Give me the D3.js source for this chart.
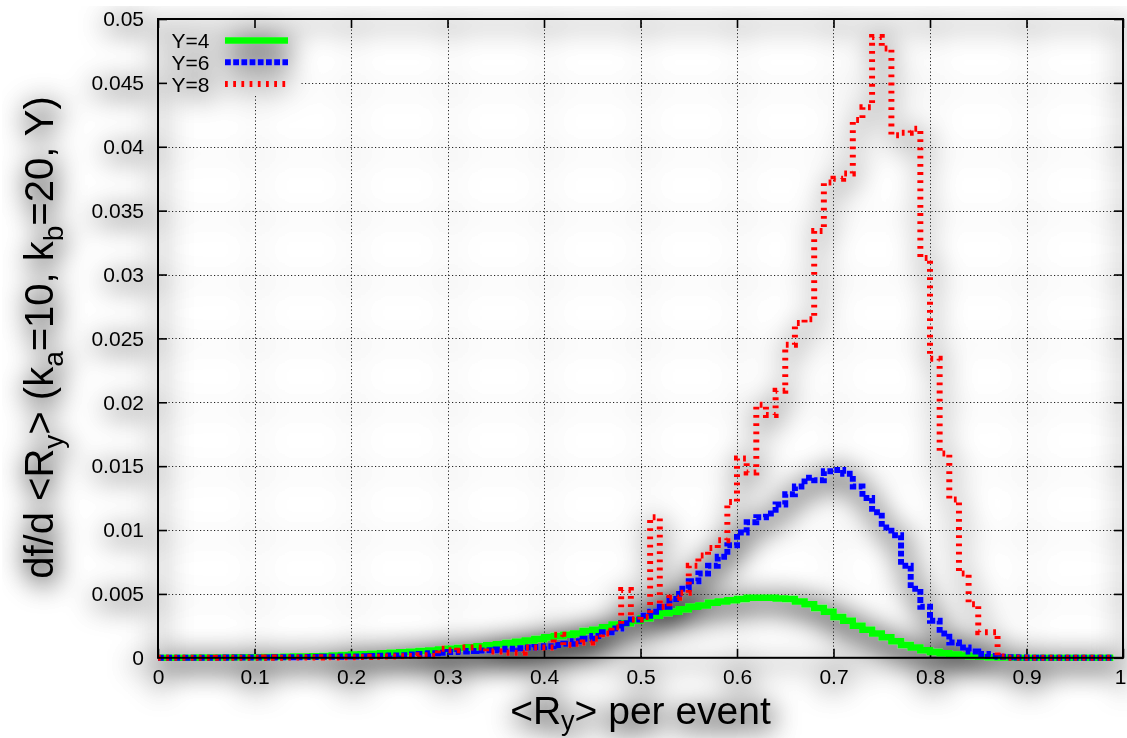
<!DOCTYPE html>
<html>
<head>
<meta charset="utf-8">
<script src="https://cdn.jsdelivr.net/npm/d3@7"></script>
<style>
  html, body { margin: 0; padding: 0; background: #fff; }
  svg { display: block; }
  text { font-family: "Liberation Sans", Arial, Helvetica, sans-serif; fill: #000; }
</style>
</head>
<body>
<svg id="chart" width="1127" height="738"></svg>
<script>
// ---------------- data ----------------
const binWidth = 0.01;          // histogram bin width, bins start at 0
const seriesNames = ["Y=4", "Y=6", "Y=8"];
const seriesColors = ["#00ff00", "#0000ff", "#ff0000"];

const valuesY4 = [
  0,0,0.00001,0.00001,0.00002,0.00002,0.00003,0.00003,0.00004,0.00005,
  0.00005,0.00006,0.00007,0.00008,0.0001,0.00011,0.00013,0.00015,0.00018,0.00021,
  0.00025,0.00028,0.00031,0.00035,0.00039,0.00043,0.00048,0.00053,0.00058,0.00064,
  0.0007,0.00076,0.00082,0.0009,0.00098,0.00106,0.00115,0.00125,0.00135,0.00147,
  0.0016,0.0017,0.0018,0.0019,0.0021,0.0022,0.0024,0.0026,0.0027,0.0029,
  0.0031,0.0033,0.0035,0.0036,0.0038,0.0040,0.0041,0.0043,0.0044,0.0045,
  0.0046,0.0047,0.0047,0.0047,0.00465,0.0046,0.0044,0.0042,0.0039,0.0036,
  0.0032,0.0029,0.0025,0.0022,0.0019,0.0016,0.0013,0.0010,0.0008,0.0006,
  0.00045,0.00035,0.00025,0.00018,0.00012,0.00008,0.00005,0.00003,0.00002,0.00001,
  0.00001,0,0,0,0,0,0,0,0
];
const valuesY6 = [
  0,0,0,0.00001,0.00001,0.00001,0.00001,0.00002,0.00002,0.00002,
  0.00003,0.00003,0.00004,0.00004,0.00005,0.00006,0.00007,0.00008,0.00009,0.0001,
  0.00011,0.00012,0.00014,0.00016,0.00018,0.0002,0.00025,0.0003,0.00035,0.0004,
  0.00045,0.0005,0.00053,0.00057,0.0006,0.00065,0.0007,0.00075,0.0008,0.00085,
  0.0009,0.001,0.0011,0.0013,0.0015,0.0017,0.0020,0.0023,0.0027,0.0030,
  0.0033,0.0036,0.0040,0.0046,0.0054,0.0060,0.0066,0.0072,0.0079,0.0088,
  0.0098,0.0106,0.0110,0.0113,0.0120,0.0128,0.0134,0.0141,0.0139,0.0146,
  0.0147,0.0144,0.0134,0.0125,0.0114,0.0102,0.0096,0.0072,0.0054,0.0040,
  0.0029,0.0019,0.0012,0.0008,0.0005,0.0003,0.00015,0.00008,0.00004,0.00002,
  0.00001,0,0,0,0,0,0,0,0
];
const valuesY8 = [
  0,0,0,0,0.00001,0,0.00001,0.00001,0,0.00001,
  0.00001,0.00002,0.00001,0.00002,0.00002,0.00003,0.00002,0.00004,0.00003,0.00005,
  0.00005,0.00006,0.00008,0.0001,0.0001,0.00012,0.00015,0.0002,0.00015,0.0007,
  0.0006,0.0008,0.0008,0.0008,0.0005,0.0005,0.0004,0.0004,0.0008,0.0008,
  0.0008,0.0018,0.0010,0.0011,0.0012,0.0015,0.0019,0.0024,0.0053,0.0030,
  0.0032,0.0110,0.0040,0.0047,0.0051,0.0072,0.0080,0.0086,0.0092,0.0122,
  0.0156,0.0145,0.0198,0.0190,0.0209,0.0245,0.0262,0.0265,0.0334,0.0372,
  0.0375,0.0379,0.0421,0.0431,0.0486,0.0477,0.0409,0.0411,0.0414,0.0313,
  0.0234,0.0160,0.0124,0.0066,0.0042,0.0020,0.0020,0.0001,0,0,
  0,0,0,0,0,0,0,0,0
];
const xTickValues = [0,0.1,0.2,0.3,0.4,0.5,0.6,0.7,0.8,0.9,1];
const xTickLabels = ["0","0.1","0.2","0.3","0.4","0.5","0.6","0.7","0.8","0.9","1"];
const yTickValues = [0,0.005,0.01,0.015,0.02,0.025,0.03,0.035,0.04,0.045,0.05];
const yTickLabels = ["0","0.005","0.01","0.015","0.02","0.025","0.03","0.035","0.04","0.045","0.05"];

// ---------------- layout ----------------
const L = 158, R = 1123, T = 19, B = 657.8;
const svg = d3.select("#chart");
const x = d3.scaleLinear().domain([0, 1]).range([L, R]);
const y = d3.scaleLinear().domain([0, 0.05]).range([B, T]);

const defs = svg.append("defs");
const f = defs.append("filter").attr("id", "shadow")
  .attr("filterUnits", "userSpaceOnUse")
  .attr("x", 0).attr("y", 0).attr("width", 1127).attr("height", 738);
f.append("feGaussianBlur").attr("in", "SourceAlpha").attr("stdDeviation", 14).attr("result", "b");
f.append("feOffset").attr("in", "b").attr("dx", 2).attr("dy", 6).attr("result", "o");
f.append("feComponentTransfer").attr("in", "o").attr("result", "s")
  .append("feFuncA").attr("type", "linear").attr("slope", 1.5);
const m = f.append("feMerge");
m.append("feMergeNode").attr("in", "s");
m.append("feMergeNode").attr("in", "SourceGraphic");

// mask to keep gridlines out of the key area
const mask = defs.append("mask").attr("id", "keymask").attr("maskUnits", "userSpaceOnUse")
  .attr("x", 0).attr("y", 0).attr("width", 1127).attr("height", 738);
mask.append("rect").attr("x", 0).attr("y", 0).attr("width", 1127).attr("height", 738).attr("fill", "#fff");
mask.append("rect").attr("x", L).attr("y", T).attr("width", 143).attr("height", 76).attr("fill", "#000");

const clip = defs.append("clipPath").attr("id", "plotclip");
clip.append("rect").attr("x", L - 4).attr("y", T - 4).attr("width", R - L + 8).attr("height", B - T + 12);

const g = svg.append("g").attr("filter", "url(#shadow)");

// grid
const grid = g.append("g").attr("mask", "url(#keymask)")
  .attr("stroke", "#222").attr("stroke-width", 1).attr("stroke-dasharray", "1.2,2.3").attr("fill", "none");
grid.selectAll("line.gx").data(xTickValues.slice(1, -1)).join("line")
  .attr("x1", d => Math.round(x(d)) + 0.5).attr("x2", d => Math.round(x(d)) + 0.5)
  .attr("y1", T).attr("y2", B);
grid.selectAll("line.gy").data(yTickValues.slice(1, -1)).join("line")
  .attr("y1", d => Math.round(y(d)) + 0.5).attr("y2", d => Math.round(y(d)) + 0.5)
  .attr("x1", L).attr("x2", R);

// axes (ticks inward, mirrored)
const tickLen = 9;
const xb = g.append("g").attr("transform", `translate(0,${B})`)
  .call(d3.axisBottom(x).tickValues(xTickValues).tickFormat((d, i) => xTickLabels[i]).tickSizeInner(-tickLen).tickSizeOuter(0).tickPadding(11));
const xt = g.append("g").attr("transform", `translate(0,${T})`)
  .call(d3.axisTop(x).tickValues(xTickValues).tickFormat("").tickSizeInner(-tickLen).tickSizeOuter(0));
const yl = g.append("g").attr("transform", `translate(${L},0)`)
  .call(d3.axisLeft(y).tickValues(yTickValues).tickFormat((d, i) => yTickLabels[i]).tickSizeInner(-tickLen).tickSizeOuter(0).tickPadding(14));
const yr = g.append("g").attr("transform", `translate(${R},0)`)
  .call(d3.axisRight(y).tickValues(yTickValues).tickFormat("").tickSizeInner(-tickLen).tickSizeOuter(0));
[xb, xt, yl, yr].forEach(a => {
  a.select(".domain").remove();
  a.selectAll(".tick line").attr("stroke", "#000").attr("stroke-width", 1.6);
  a.selectAll("text").attr("font-size", 21).attr("fill", "#000")
    .attr("font-family", '"Liberation Sans", Arial, sans-serif');
});
// keep the last x label inside the picture
xb.selectAll(".tick text").filter((d, i) => i === xTickValues.length - 1).attr("dx", -3);

// histograms
const line = d3.line().x(d => x(d[0])).y(d => y(d[1])).curve(d3.curveStepAfter);
function pts(vals) {
  const p = vals.map((v, i) => [i * binWidth, v]);
  p.push([vals.length * binWidth, vals[vals.length - 1]]);
  return p;
}
const allSeries = [valuesY4, valuesY6, valuesY8];
const styles = [
  { w: 6.5, dash: null, cap: "butt" },
  { w: 6, dash: "5.8,2.4", cap: "butt" },
  { w: 6, dash: "2.8,5.4", cap: "butt" }
];
const curves = g.append("g").attr("clip-path", "url(#plotclip)");
allSeries.forEach((vals, k) => {
  curves.append("path").attr("d", line(pts(vals)))
    .attr("fill", "none").attr("stroke", seriesColors[k])
    .attr("stroke-width", styles[k].w)
    .attr("stroke-dasharray", styles[k].dash)
    .attr("stroke-linejoin", "miter").attr("stroke-linecap", styles[k].cap);
});

// border
g.append("rect").attr("x", L).attr("y", T).attr("width", R - L).attr("height", B - T)
  .attr("fill", "none").attr("stroke", "#000").attr("stroke-width", 2);

// key
const key = g.append("g");
seriesNames.forEach((name, k) => {
  const cy = 40.5 + k * 21.7;
  key.append("text").attr("x", 171.5).attr("y", cy + 7.7).attr("font-size", 21).text(name);
  key.append("line").attr("x1", 225).attr("x2", 288).attr("y1", cy).attr("y2", cy)
    .attr("stroke", seriesColors[k]).attr("stroke-width", styles[k].w)
    .attr("stroke-dasharray", styles[k].dash);
});

// axis titles
const xtitle = g.append("text").attr("x", 640.5).attr("y", 724).attr("text-anchor", "middle").attr("font-size", 39);
xtitle.append("tspan").text("<R");
xtitle.append("tspan").attr("font-size", 27).attr("dy", 6).text("y");
xtitle.append("tspan").attr("dy", -6).text("> per event");

const ytitle = g.append("text").attr("transform", "translate(53,337.5) rotate(-90)")
  .attr("text-anchor", "middle").attr("font-size", 40);
ytitle.append("tspan").text("df/d <R");
ytitle.append("tspan").attr("font-size", 28).attr("dy", 10).text("y");
ytitle.append("tspan").attr("dy", -10).text("> (k");
ytitle.append("tspan").attr("font-size", 28).attr("dy", 10).text("a");
ytitle.append("tspan").attr("dy", -10).text("=10, k");
ytitle.append("tspan").attr("font-size", 28).attr("dy", 10).text("b");
ytitle.append("tspan").attr("dy", -10).text("=20, Y)");
</script>
</body>
</html>
